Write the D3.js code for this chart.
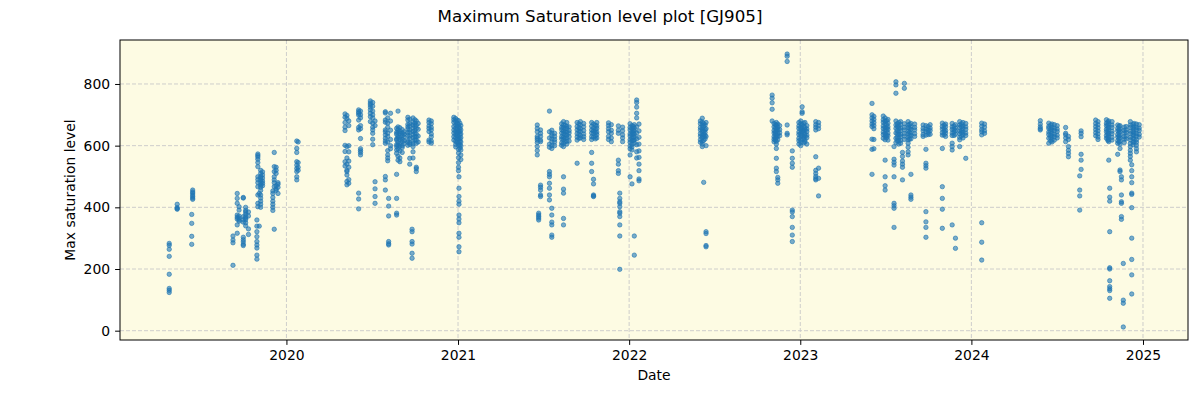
<!DOCTYPE html>
<html>
<head>
<meta charset="utf-8">
<script src="https://cdn.jsdelivr.net/npm/d3@7"></script>
<style>
  html, body { margin: 0; padding: 0; background: #ffffff; }
  text { font-family: "DejaVu Sans", sans-serif; fill: #000; }
</style>
</head>
<body>
<svg id="chart" width="1200" height="400"></svg>
<script>
// ---- data: observation night -> max saturation levels ----
const obs2019 = [
  ["2019-04-26", [283, 277, 264, 241, 183, 137, 131, 124]],
  ["2019-05-13", [410, 399, 396, 394]],
  ["2019-06-13", [377, 348, 306, 280]],
  ["2019-06-15", [456, 450, 446, 440, 435, 430, 426]],
  ["2019-09-09", [212, 285, 294, 307]],
  ["2019-09-18", [445, 429, 413, 375, 368, 362, 343, 316]],
  ["2019-09-22", [402, 391, 372, 365, 359, 355]],
  ["2019-10-01", [303, 295, 288, 280, 276, 430, 432, 370, 360, 352]],
  ["2019-10-06", [400, 390, 385, 378, 370, 365, 360, 350, 340]],
  ["2019-10-12", [330, 312, 385, 372]],
  ["2019-10-30", [359, 339, 321, 305, 289, 278, 268, 245, 232]],
  ["2019-11-01", [573, 568, 563, 556, 545, 532, 499, 490, 480, 467, 440, 413, 402]],
  ["2019-11-04", [339, 445]],
  ["2019-11-07", [520, 510, 500, 495, 488, 480, 472, 465, 455, 440, 430, 420, 410, 400]],
  ["2019-11-11", [515, 505, 495, 485, 478, 470]],
  ["2019-12-03", [453, 445, 432, 420, 410, 400, 390]],
  ["2019-12-06", [578, 532, 516, 499, 489, 480, 467, 329]],
  ["2019-12-10", [530, 520, 510, 470, 460, 455]],
  ["2019-12-14", [480, 475, 465, 445]]
];
const obs2020 = [
  ["2020-01-23", [615, 591, 578, 548, 537, 526, 516, 499, 489]],
  ["2020-01-26", [612, 545, 530, 520]],
  ["2020-05-05", [703, 692, 675, 660, 649, 601, 581, 548, 534]],
  ["2020-05-09", [698, 688, 597, 560, 540, 520, 516, 505, 484, 473]],
  ["2020-05-13", [680, 665, 600, 580, 550, 530, 490, 478]],
  ["2020-06-03", [716, 710, 705, 699, 683, 659, 651, 446, 427, 395]],
  ["2020-06-07", [712, 700, 690, 665, 655, 623, 590, 584, 578, 570]],
  ["2020-06-28", [745, 738, 732, 725, 716, 705, 694, 678]],
  ["2020-07-03", [740, 728, 712, 700, 690, 673, 660, 651, 640, 621, 603]],
  ["2020-07-08", [483, 460, 435, 413, 680, 665]],
  ["2020-07-30", [710, 706, 683, 676, 651, 645, 635, 624, 615, 608, 500, 489, 456]],
  ["2020-08-04", [690, 673, 660, 640, 630, 612, 584, 570, 560, 551]],
  ["2020-08-06", [429, 404, 372, 289, 282, 278]],
  ["2020-08-10", [705, 680, 650, 620, 600, 590]],
  ["2020-08-23", [656, 643, 637, 622, 618, 603, 597, 586, 575, 507, 429, 381, 375]],
  ["2020-08-26", [712, 661, 652, 644, 631, 626, 611, 602, 589, 566, 553]],
  ["2020-08-30", [658, 646, 639, 627, 619, 606, 598, 583, 560, 548]],
  ["2020-09-04", [652, 641, 633, 621, 613, 600, 594, 578]],
  ["2020-09-08", [645, 637, 628, 616, 607]],
  ["2020-09-16", [692, 683, 669, 661, 654, 642, 633, 617, 611, 601]],
  ["2020-09-20", [686, 671, 664, 651, 644, 631, 623, 609, 604, 559, 540]],
  ["2020-09-25", [329, 321, 289, 281, 251, 235]],
  ["2020-09-27", [690, 676, 667, 657, 646, 636, 627, 614, 606, 597, 580, 560]],
  ["2020-10-01", [684, 673, 662, 649, 641, 629, 619]],
  ["2020-10-04", [680, 666, 656, 638, 628, 617, 608, 530, 525, 516]],
  ["2020-10-08", [672, 653, 631, 612]],
  ["2020-10-31", [683, 675, 664, 656, 646, 618, 612]],
  ["2020-11-05", [680, 671, 659, 651, 638, 629, 615, 608]],
  ["2020-12-23", [692, 684, 676, 662, 651, 641, 629, 618]],
  ["2020-12-27", [688, 679, 667, 656, 646, 636, 626, 614, 604, 596]],
  ["2020-12-30", [683, 672, 663, 652, 641, 633, 621, 611]]
];
const obs2021 = [
  ["2021-01-02", [681, 668, 661, 648, 642, 629, 622, 609, 601, 588, 576, 561, 545, 530, 519]],
  ["2021-01-03", [499, 462, 435, 420, 410, 375, 362, 350, 316, 303, 272, 256]],
  ["2021-01-05", [673, 657, 646, 637, 623, 614, 603, 592]],
  ["2021-01-07", [665, 651, 638, 626, 612, 599, 586, 570, 555]],
  ["2021-06-19", [667, 656, 645, 630, 624, 618, 610, 597, 584, 570]],
  ["2021-06-22", [381, 375, 370, 365, 359]],
  ["2021-06-26", [651, 640, 630, 618, 613, 472, 465, 456, 440, 435]],
  ["2021-07-15", [712, 645, 625, 605, 595, 516, 507, 499, 478, 462, 440, 424]],
  ["2021-07-20", [650, 640, 632, 622, 612, 600, 591, 397, 375, 352, 343, 310, 303]],
  ["2021-07-26", [640, 630, 620, 612, 600]],
  ["2021-08-10", [671, 659, 652, 641, 629, 622, 609, 601]],
  ["2021-08-14", [678, 667, 659, 647, 639, 627, 619, 607, 597, 499, 459, 446, 364, 343]],
  ["2021-08-17", [666, 654, 644, 636, 624, 613]],
  ["2021-08-21", [675, 663, 656, 644, 634, 626, 614, 605]],
  ["2021-08-26", [661, 649, 641, 629, 615]],
  ["2021-09-12", [675, 662, 651, 639, 628, 618, 543]],
  ["2021-09-16", [671, 658, 648, 637, 624]],
  ["2021-09-19", [678, 667, 655, 646, 633, 625]],
  ["2021-09-26", [672, 661, 649, 638, 629, 620]],
  ["2021-10-13", [675, 663, 651, 641, 629, 620, 578, 543, 516]],
  ["2021-10-17", [670, 657, 647, 639, 627, 491, 476, 440, 437, 435]],
  ["2021-10-21", [666, 652, 643, 631, 622]],
  ["2021-10-24", [675, 664, 656, 644, 636, 625]],
  ["2021-11-18", [674, 665, 655, 645, 630, 620]],
  ["2021-11-24", [668, 650, 640, 625, 613]],
  ["2021-12-09", [664, 650, 640, 553, 540, 519, 510]],
  ["2021-12-12", [446, 429, 418, 413, 402, 386, 381, 370, 343, 307, 199]],
  ["2021-12-18", [660, 648, 635, 625, 613]]
];
const obs2022 = [
  ["2022-01-03", [671, 659, 651, 638, 631, 619, 611, 599, 590, 570, 499]],
  ["2022-01-07", [665, 656, 644, 636, 624, 616, 604, 596, 586, 476]],
  ["2022-01-10", [662, 649, 641, 628, 617]],
  ["2022-01-12", [668, 657, 648, 637, 628, 618, 608, 307, 245]],
  ["2022-01-17", [748, 740, 725, 705, 690, 661, 641, 622, 603, 580, 560]],
  ["2022-01-22", [670, 648, 627, 605, 583, 562, 540, 519, 492, 486]],
  ["2022-06-02", [680, 671, 659, 651, 639, 631, 619, 611]],
  ["2022-06-06", [689, 676, 666, 654, 646, 634, 626, 614, 605, 597]],
  ["2022-06-09", [672, 662, 647, 637, 629, 617, 481]],
  ["2022-06-12", [667, 652, 643, 633, 622]],
  ["2022-06-14", [675, 655, 630, 600, 321, 315, 276, 272]],
  ["2022-11-02", [764, 754, 739, 718, 680]],
  ["2022-11-06", [672, 661, 649, 641, 629, 621, 613]],
  ["2022-11-09", [668, 657, 644, 637, 626, 618]],
  ["2022-11-11", [675, 666, 654, 646, 634, 626, 614, 605, 591, 559, 527, 516]],
  ["2022-11-14", [670, 659, 651, 639, 631, 619, 497, 489, 478]],
  ["2022-11-18", [665, 652, 642, 632]],
  ["2022-12-04", [897, 890, 873, 667, 640, 635]],
  ["2022-12-15", [583, 559, 543, 530, 391, 385, 370, 335, 310, 289]],
  ["2022-12-29", [675, 664, 656, 644, 636, 624, 616, 605]]
];
const obs2023 = [
  ["2023-01-02", [680, 671, 659, 651, 639, 631, 619, 611, 600]],
  ["2023-01-05", [726, 710, 705, 668, 654, 646, 634]],
  ["2023-01-08", [673, 662, 648, 643, 627, 622, 609]],
  ["2023-01-11", [675, 659, 651, 638, 631, 618, 612]],
  ["2023-01-15", [665, 654, 646, 634, 626, 605]],
  ["2023-02-03", [678, 668, 660, 651, 564, 520, 510, 500, 493, 489]],
  ["2023-02-09", [675, 665, 655, 527, 494, 437]],
  ["2023-06-03", [737, 700, 690, 680, 670, 662, 621, 588, 507]],
  ["2023-06-07", [695, 685, 675, 665, 655, 620, 590]],
  ["2023-06-27", [696, 684, 676, 664, 656, 644, 636, 624]],
  ["2023-07-01", [690, 679, 671, 659, 651, 639, 631, 619, 553, 499, 470, 456]],
  ["2023-07-04", [681, 668, 657, 648, 633, 626]],
  ["2023-07-07", [685, 673, 661, 653, 641, 632, 618]],
  ["2023-07-20", [597, 556, 546, 537, 499, 413, 405, 397, 335]],
  ["2023-07-24", [807, 797, 770, 680, 667, 656, 641, 624, 610]],
  ["2023-07-27", [671, 662, 649, 638, 627, 616]],
  ["2023-07-30", [675, 664, 656, 644, 636, 624, 615, 605]],
  ["2023-08-03", [678, 669, 657, 649, 637, 629, 617, 608]],
  ["2023-08-07", [578, 565, 550, 540, 530, 489]],
  ["2023-08-11", [802, 786, 671, 659, 651, 639, 631, 620]],
  ["2023-08-19", [678, 667, 659, 647, 639, 627, 619, 608, 595, 580, 570]],
  ["2023-08-22", [669, 656, 644, 633, 621]],
  ["2023-08-25", [672, 661, 653, 641, 633, 622, 507, 440, 433, 426]],
  ["2023-09-02", [670, 659, 651, 639, 630]],
  ["2023-09-20", [667, 656, 648, 636, 630]],
  ["2023-09-26", [665, 654, 646, 634, 588, 543, 535, 527, 386, 353, 335, 303]],
  ["2023-10-01", [662, 651, 643, 636]],
  ["2023-10-05", [668, 657, 649, 637]],
  ["2023-10-31", [673, 662, 654, 642, 634, 591, 467, 429, 394, 332]],
  ["2023-11-04", [667, 655, 646, 635]],
  ["2023-11-07", [670, 661, 649, 641, 630]],
  ["2023-11-21", [672, 661, 653, 641, 633, 608, 597, 586, 343]],
  ["2023-11-25", [664, 652, 644, 633]],
  ["2023-11-28", [668, 657, 649, 637, 300, 267]],
  ["2023-12-07", [678, 667, 659, 647, 639, 627, 619, 597]],
  ["2023-12-11", [671, 662, 650, 643, 631]],
  ["2023-12-14", [675, 664, 656, 644, 636, 625]],
  ["2023-12-20", [672, 661, 653, 641, 633, 559]]
];
const obs2024 = [
  ["2024-01-23", [673, 663, 652, 645, 635, 350, 287, 229]],
  ["2024-01-29", [670, 660, 648, 640]],
  ["2024-05-27", [681, 670, 661, 655, 651]],
  ["2024-06-14", [673, 662, 656, 644, 636, 624, 608]],
  ["2024-06-18", [667, 653, 646, 633, 626, 615]],
  ["2024-06-21", [670, 659, 651, 639, 631, 619, 612]],
  ["2024-06-26", [668, 657, 649, 637, 629, 618]],
  ["2024-07-02", [665, 654, 646, 634, 625]],
  ["2024-07-20", [659, 640, 635, 625, 613]],
  ["2024-07-26", [630, 620, 597, 585, 575, 564]],
  ["2024-08-19", [502, 456, 437, 391]],
  ["2024-08-22", [648, 640, 629, 572, 553, 523]],
  ["2024-09-22", [683, 672, 662, 652, 642, 632]],
  ["2024-09-27", [678, 668, 658, 648, 638, 628, 620]],
  ["2024-10-15", [684, 673, 665, 653, 645, 633, 624]],
  ["2024-10-18", [677, 666, 657, 644, 637, 626, 617]],
  ["2024-10-20", [680, 671, 659, 651, 639, 631, 619, 613, 553]],
  ["2024-10-22", [462, 433, 420, 321, 204, 200, 162, 143, 136, 130, 105]],
  ["2024-10-27", [678, 667, 659, 647, 639, 627, 618]],
  ["2024-11-08", [667, 656, 648, 636, 628, 616, 608, 572]],
  ["2024-11-11", [663, 651, 642, 631, 623, 612]],
  ["2024-11-13", [665, 654, 646, 634, 626, 614, 605, 591, 521, 516]],
  ["2024-11-16", [499, 489, 440, 418, 413, 370, 361]],
  ["2024-11-20", [218, 99, 89, 12]],
  ["2024-11-22", [660, 649, 641, 629, 621, 610]],
  ["2024-11-26", [662, 651, 643, 631, 622]],
  ["2024-12-05", [678, 667, 659, 647, 639, 627, 619, 607, 597, 585, 575, 565, 553]],
  ["2024-12-08", [538, 519, 499, 480, 446, 442, 399, 300, 231, 181, 119]],
  ["2024-12-11", [669, 658, 645, 636, 624, 611, 603]],
  ["2024-12-13", [672, 661, 653, 641, 633, 621, 612]],
  ["2024-12-18", [670, 659, 651, 639, 631, 619, 611, 601, 590, 580]],
  ["2024-12-24", [668, 657, 649, 637, 628]]
];
const yTicks = [0, 200, 400, 600, 800];
const xTickYears = ["2020", "2021", "2022", "2023", "2024", "2025"];
const xDomain = ["2019-01-11", "2025-04-07"];
const yDomain = [-30.2, 942.6];
const titleText = "Maximum Saturation level plot [GJ905]";
const xLabel = "Date";
const yLabel = "Max saturation level";

// ---- build ----
const parse = d3.utcParse("%Y-%m-%d");
const parseYear = d3.utcParse("%Y");
const points = [];
[obs2019, obs2020, obs2021, obs2022, obs2023, obs2024].forEach(season =>
  season.forEach(([d, vals]) => vals.forEach(v => points.push({ date: parse(d), value: v })))
);

const svg = d3.select("#chart");
const L = 120, R = 1188, T = 40, B = 340;

const x = d3.scaleUtc().domain(xDomain.map(parse)).range([L, R]);
const y = d3.scaleLinear().domain(yDomain).range([B, T]);

svg.append("rect").attr("x", L).attr("y", T).attr("width", R - L).attr("height", B - T)
  .attr("fill", "#fdfbe3");

const xTickVals = xTickYears.map(parseYear);

// grid
const grid = svg.append("g").attr("stroke", "#c8c8c8").attr("stroke-width", 0.9)
  .attr("stroke-dasharray", "4,2");
grid.selectAll(".gx").data(xTickVals).join("line")
  .attr("x1", d => x(d)).attr("x2", d => x(d)).attr("y1", T).attr("y2", B);
grid.selectAll(".gy").data(yTicks).join("line")
  .attr("x1", L).attr("x2", R).attr("y1", d => y(d)).attr("y2", d => y(d));

// points
svg.append("g").selectAll("circle").data(points).join("circle")
  .attr("cx", d => x(d.date)).attr("cy", d => y(d.value)).attr("r", 2.2)
  .attr("fill", "#1f77b4").attr("fill-opacity", 0.6)
  .attr("stroke", "#1f77b4").attr("stroke-opacity", 0.6).attr("stroke-width", 1);

// axes
const xAxis = d3.axisBottom(x).tickValues(xTickVals).tickFormat(d3.utcFormat("%Y"))
  .tickSizeOuter(0).tickSize(4.9).tickPadding(5);
const yAxis = d3.axisLeft(y).tickValues(yTicks).tickSizeOuter(0).tickSize(4.9).tickPadding(5);

const gx = svg.append("g").attr("transform", `translate(0,${B})`).call(xAxis);
const gy = svg.append("g").attr("transform", `translate(${L},0)`).call(yAxis);
[gx, gy].forEach(g => {
  g.select(".domain").remove();
  g.selectAll("text").attr("font-size", 13.9).attr("font-family", "DejaVu Sans").attr("fill", "#000");
  g.selectAll("line").attr("stroke", "#000").attr("stroke-width", 1);
});

// frame
svg.append("rect").attr("x", L).attr("y", T).attr("width", R - L).attr("height", B - T)
  .attr("fill", "none").attr("stroke", "#000").attr("stroke-width", 1);

// labels
svg.append("text").attr("x", 600).attr("y", 22).attr("text-anchor", "middle")
  .attr("font-size", 16.7).text(titleText);
svg.append("text").attr("x", (L + R) / 2).attr("y", 380).attr("text-anchor", "middle")
  .attr("font-size", 13.9).text(xLabel);
svg.append("text").attr("transform", `translate(75,${(T + B) / 2}) rotate(-90)`)
  .attr("text-anchor", "middle").attr("font-size", 13.9).text(yLabel);
</script>
</body>
</html>
